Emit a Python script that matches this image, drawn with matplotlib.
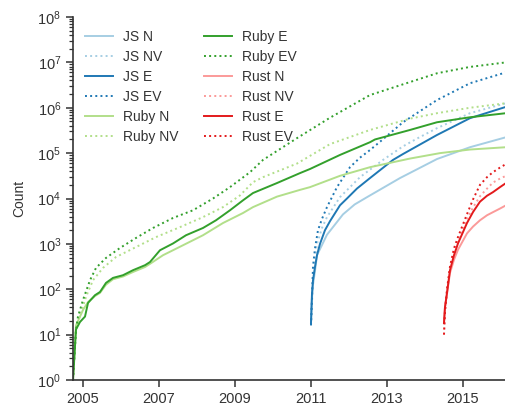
import numpy as np
import matplotlib
matplotlib.use("Agg")
import matplotlib.pyplot as plt
from matplotlib.ticker import LogLocator, NullFormatter

plt.rcParams['font.family'] = ['Liberation Sans', 'DejaVu Sans']
plt.rcParams['mathtext.fontset'] = 'custom'
plt.rcParams['mathtext.rm'] = 'Liberation Sans'
plt.rcParams['text.color'] = '#333333'
plt.rcParams['axes.labelcolor'] = '#333333'
plt.rcParams['xtick.color'] = '#333333'
plt.rcParams['ytick.color'] = '#333333'

# values: decimal year and count
ruby_e_year = [2004.737, 2004.816, 2004.921, 2005.053, 2005.132, 2005.316, 2005.447, 2005.605,
               2005.789, 2006.053, 2006.316, 2006.632, 2006.763, 2007.026, 2007.368, 2007.711,
               2008.158, 2008.5, 2008.868, 2009.211, 2009.474, 2010.105, 2010.711, 2010.974,
               2011.763, 2012.553, 2012.684, 2013.605, 2014.316, 2015.184, 2016.132]
ruby_e = [1, 13, 19, 25, 50, 74, 87, 138, 178, 204, 263, 339, 398, 724, 1020, 1550, 2240,
          3310, 5500, 9120, 13200, 21900, 36300, 44700, 91200, 174000, 200000, 324000,
          479000, 617000, 759000]

ruby_n_year = [2004.737, 2004.816, 2004.921, 2005.0, 2005.132, 2005.316, 2005.447, 2005.605,
               2005.789, 2006.053, 2006.316, 2006.632, 2006.763, 2007.105, 2007.632, 2008.158,
               2008.684, 2009.211, 2009.474, 2010.105, 2010.711, 2010.974, 2011.763, 2012.553,
               2013.605, 2014.395, 2015.184, 2016.132]
ruby_n = [1, 16, 25, 35, 52, 71, 83, 126, 166, 191, 240, 309, 363, 562, 933, 1550, 2880,
          4790, 6460, 11000, 15500, 17800, 31600, 49000, 75900, 100000, 120000, 135000]

ruby_ev_year = [2004.737, 2004.816, 2004.868, 2005.0, 2005.184, 2005.342, 2005.605, 2005.974,
                2006.395, 2006.842, 2007.368, 2007.895, 2008.421, 2008.868, 2009.395, 2009.737,
                2010.632, 2011.5, 2012.553, 2014.316, 2015.184, 2016.132]
ruby_ev = [1, 13, 25, 58, 158, 295, 490, 813, 1350, 2240, 3720, 5500, 10000, 17800, 38000,
           70800, 214000, 603000, 1905000, 5750000, 7940000, 10000000]

ruby_nv_year = [2004.737, 2004.816, 2004.868, 2005.079, 2005.263, 2005.526, 2005.868, 2006.395,
                2006.921, 2007.553, 2008.158, 2008.684, 2009.132, 2009.474, 2009.737, 2010.632,
                2011.5, 2012.553, 2013.605, 2014.316, 2015.184, 2016.132]
ruby_nv = [1, 13, 19, 68, 158, 295, 513, 851, 1410, 2340, 3890, 6460, 11700, 22900, 29500,
           58900, 158000, 324000, 575000, 759000, 1000000, 1259000]

js_e_year = [2011.0, 2011.026, 2011.053, 2011.105, 2011.158, 2011.237, 2011.368, 2011.5,
             2011.763, 2011.947, 2012.211, 2012.553, 2013.158, 2013.421, 2014.316, 2015.184,
             2016.132]
js_e = [18, 79, 158, 309, 562, 1000, 2000, 3160, 7080, 10000, 16600, 28200, 70800, 95500,
        251000, 589000, 1047000]

js_ev_year = [2011.0, 2011.026, 2011.053, 2011.105, 2011.184, 2011.289, 2011.421, 2011.684,
              2012.026, 2012.289, 2012.553, 2012.816, 2013.421, 2014.316, 2015.184, 2016.132]
js_ev = [16, 63, 316, 794, 2000, 3550, 6460, 17800, 49000, 79400, 117000, 178000, 479000,
         1479000, 3467000, 6026000]

js_nv_year = [2011.0, 2011.026, 2011.053, 2011.105, 2011.158, 2011.289, 2011.421, 2011.763,
              2012.289, 2012.895, 2013.421, 2013.789, 2014.316, 2015.184, 2016.132]
js_nv = [16, 50, 158, 398, 1000, 2240, 3890, 10700, 29500, 70800, 141000, 209000, 355000,
         759000, 1259000]

js_n_year = [2011.0, 2011.026, 2011.053, 2011.105, 2011.158, 2011.421, 2011.842, 2012.15,
             2012.474, 2013.342, 2014.316, 2015.184, 2016.132]
js_n = [18, 63, 126, 251, 562, 1590, 4470, 7400, 10700, 28200, 74100, 135000, 224000]

rust_year = [2014.5, 2014.526, 2014.579, 2014.658, 2014.763, 2014.868, 2015.105, 2015.263,
             2015.447, 2015.632, 2015.789, 2015.974, 2016.132]
rust_e = [18, 40, 83, 263, 562, 1020, 2880, 5010, 8510, 11500, 13800, 17800, 21900]
rust_ev = [10, 32, 100, 316, 794, 1410, 4500, 9500, 19950, 29500, 38000, 48000, 57500]
rust_nv = [10, 32, 89, 282, 631, 1120, 3550, 6310, 11200, 16500, 22400, 27500, 31600]
rust_n = [18, 40, 79, 229, 447, 740, 1700, 2400, 3310, 4270, 5000, 6000, 7080]

series = [
    ("JS N", js_n_year, js_n, '#a6cee3', '-'),
    ("JS NV", js_nv_year, js_nv, '#a6cee3', ':'),
    ("JS E", js_e_year, js_e, '#1f78b4', '-'),
    ("JS EV", js_ev_year, js_ev, '#1f78b4', ':'),
    ("Ruby N", ruby_n_year, ruby_n, '#b2df8a', '-'),
    ("Ruby NV", ruby_nv_year, ruby_nv, '#b2df8a', ':'),
    ("Ruby E", ruby_e_year, ruby_e, '#33a02c', '-'),
    ("Ruby EV", ruby_ev_year, ruby_ev, '#33a02c', ':'),
    ("Rust N", rust_year, rust_n, '#fb9a99', '-'),
    ("Rust NV", rust_year, rust_nv, '#fb9a99', ':'),
    ("Rust E", rust_year, rust_e, '#e31a1c', '-'),
    ("Rust EV", rust_year, rust_ev, '#e31a1c', ':'),
]

fig = plt.figure(figsize=(5.06, 4.08), dpi=100)
ax = fig.add_axes([73 / 506, 28 / 408, 433 / 506, 363 / 408])

for name, xs, ys, col, ls in series:
    ax.plot(xs, ys, color=col, linestyle=ls, linewidth=1.4, label=name)

ax.set_yscale('log')
ax.set_ylim(1, 1e8)
ax.set_xlim(2004.737, 2016.132)
ax.set_xticks([2005, 2007, 2009, 2011, 2013, 2015])
ax.set_xticklabels(['2005', '2007', '2009', '2011', '2013', '2015'])
ax.set_yticks([10.0 ** k for k in range(9)])
ax.yaxis.set_minor_locator(LogLocator(base=10, subs=np.arange(2, 10), numticks=20))
ax.yaxis.set_minor_formatter(NullFormatter())
ax.set_ylabel('Count', fontsize=10, labelpad=8)

for s in ['top', 'right']:
    ax.spines[s].set_visible(False)
for s in ['left', 'bottom']:
    ax.spines[s].set_color('#333333')
    ax.spines[s].set_linewidth(1.2)
ax.tick_params(axis='both', which='major', labelsize=10.5, length=5, width=1.1, direction='out')
ax.tick_params(axis='y', which='minor', length=3, width=0.9, direction='out')

ax.legend(loc='upper left', ncol=2, frameon=False, fontsize=10, handlelength=2.0,
          handletextpad=0.7, columnspacing=1.85, labelspacing=0.44,
          bbox_to_anchor=(0.0, 1.0))

fig.savefig('out.png', dpi=100)
